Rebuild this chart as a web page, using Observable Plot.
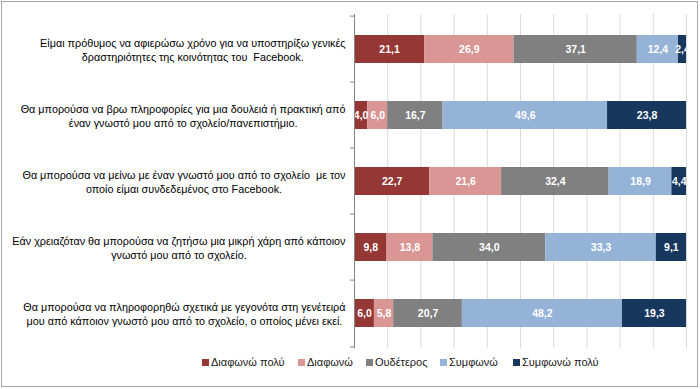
<!DOCTYPE html>
<html>
<head>
<meta charset="utf-8">
<script src="https://cdn.jsdelivr.net/npm/d3@7"></script>
<script src="https://cdn.jsdelivr.net/npm/@observablehq/plot@0.6"></script>
<style>
  html, body { margin: 0; padding: 0; background: #fff; }
  body { width: 700px; height: 389px; position: relative; overflow: hidden; font-family: "Liberation Sans", Arial, sans-serif; }
  #frame { position: absolute; left: 1px; top: 1px; width: 697px; height: 386px; box-sizing: border-box; border: 1px solid #a6a6a6; pointer-events: none; }
  #chart { position: absolute; left: 0; top: 0; }
  #legend { position: absolute; left: 0; top: 355px; width: 700px; height: 16px; font-size: 11px; color: #1a1a1a; }
  .item { position: absolute; top: 0; white-space: nowrap; line-height: 14px; }
  .sw { display: inline-block; width: 7px; height: 7px; margin-right: 2px; vertical-align: 0px; }
</style>
</head>
<body>
<div id="chart"></div>
<div id="legend"></div>
<div id="frame"></div>
<script>
const statements = [
  "Είμαι πρόθυμος να αφιερώσω χρόνο για να υποστηρίξω γενικές\nδραστηριότητες της κοινότητας του  Facebook.",
  "Θα μπορούσα να βρω πληροφορίες για μια δουλειά ή πρακτική από\nέναν γνωστό μου από το σχολείο/πανεπιστήμιο.",
  "Θα μπορούσα να μείνω με έναν γνωστό μου από το σχολείο  με τον\nοποίο είμαι συνδεδεμένος στο Facebook.",
  "Εάν χρειαζόταν θα μπορούσα να ζητήσω μια μικρή χάρη από κάποιον\nγνωστό μου από το σχολείο.",
  "Θα μπορούσα να πληροφορηθώ σχετικά με γεγονότα στη γενέτειρά\nμου από κάποιον γνωστό μου από το σχολείο, ο οποίος μένει εκεί."
];
const responses = ["Διαφωνώ πολύ", "Διαφωνώ", "Ουδέτερος", "Συμφωνώ", "Συμφωνώ πολύ"];
const colors = ["#953735", "#d99694", "#808080", "#95b3d7", "#17375e"];
const diafonoPoly = [21.1, 4.0, 22.7, 9.8, 6.0];
const diafono     = [26.9, 6.0, 21.6, 13.8, 5.8];
const oudeteros   = [37.1, 16.7, 32.4, 34.0, 20.7];
const symfono     = [12.4, 49.6, 18.9, 33.3, 48.2];
const symfonoPoly = [2.4, 23.8, 4.4, 9.1, 19.3];
const gridTicks = [0, 0.1, 0.2, 0.3, 0.4, 0.5, 0.6, 0.7, 0.8, 0.9, 1.0];

const series = [diafonoPoly, diafono, oudeteros, symfono, symfonoPoly];
const data = [];
statements.forEach((s, i) => {
  series.forEach((vals, j) => {
    data.push({statement: s, response: responses[j], value: vals[i], label: vals[i].toFixed(1).replace(".", ",")});
  });
});

const stackOpts = {y: "statement", x: "value", z: "response", order: responses, offset: "normalize"};
const step = (348 - 14) / statements.length;

const chart = Plot.plot({
  width: 700,
  height: 350,
  marginTop: 14,
  marginBottom: 2,
  marginLeft: 354,
  marginRight: 14,
  style: {fontFamily: "Liberation Sans, Arial, sans-serif", background: "transparent"},
  x: {domain: [0, 1], axis: null},
  y: {domain: statements, axis: null, paddingInner: 0.58, paddingOuter: 0.29},
  color: {domain: responses, range: colors},
  marks: [
    Plot.ruleX(gridTicks, {x: d => d, stroke: "#d9d9d9", strokeWidth: 1}),
    Plot.barX(data, Plot.stackX({...stackOpts, fill: "response"})),
    Plot.text(data, Plot.stackX({...stackOpts, text: "label", fill: "white", fontWeight: "bold", fontSize: 10.5, clip: true})),
    Plot.ruleX([0], {stroke: "#868686"}),
    Plot.ruleY(statements, {y: d => d, x1: 0, x2: 0, insetLeft: -4, dy: -step / 2, stroke: "#868686"}),
    Plot.ruleY([statements[statements.length - 1]], {y: d => d, x1: 0, x2: 0, insetLeft: -4, dy: step / 2, stroke: "#868686"}),
    Plot.text(statements, {y: d => d, text: d => d, frameAnchor: "left", dx: -9, textAnchor: "middle", fill: "#000", fontSize: 10.8, lineHeight: 1.3})
  ]
});
document.getElementById("chart").appendChild(chart);

// Excel-style category labels: block right-aligned to the axis, each line centered in the block
chart.querySelectorAll("text").forEach(t => {
  const spans = t.querySelectorAll("tspan");
  if (spans.length < 2) return;
  let w = 0;
  spans.forEach(s => { w = Math.max(w, s.getComputedTextLength()); });
  spans.forEach(s => s.setAttribute("x", -w / 2));
});

const legendX = [202, 298, 366, 440, 513];
const legend = document.getElementById("legend");
responses.forEach((r, i) => {
  const it = document.createElement("div");
  it.className = "item";
  it.style.left = legendX[i] + "px";
  it.innerHTML = `<span class="sw" style="background:${colors[i]}"></span>${r}`;
  legend.appendChild(it);
});
</script>
</body>
</html>
